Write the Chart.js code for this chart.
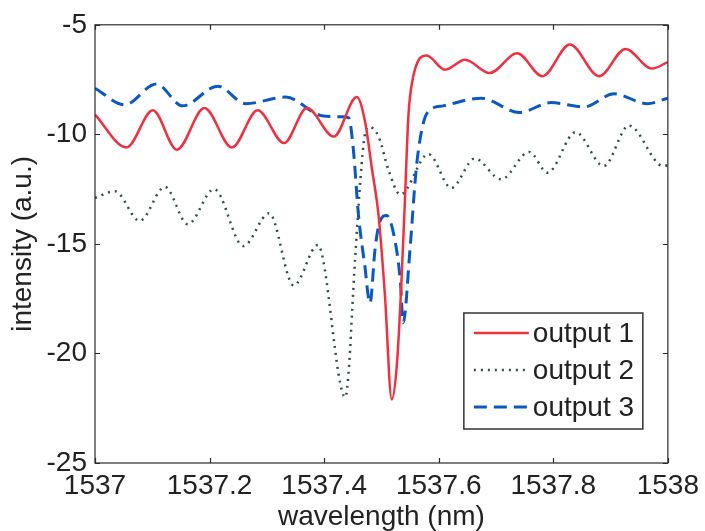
<!DOCTYPE html>
<html>
<head>
<meta charset="utf-8">
<script src="https://cdn.jsdelivr.net/npm/chart.js@4/dist/chart.umd.min.js"></script>
<style>
  html, body { margin: 0; padding: 0; background: #fff; }
  #wrap { position: relative; width: 705px; height: 531px; }
</style>
</head>
<body>
<div id="wrap"><canvas id="chart-output"></canvas></div>
<script>
// output spectra (wavelength in nm, intensity in a.u.)
const seriesLabels = ['output 1', 'output 2', 'output 3'];

const out1Wavelength = [1537.000, 1537.055, 1537.101, 1537.143, 1537.191, 1537.239, 1537.284, 1537.330,
  1537.370, 1537.417, 1537.457, 1537.472, 1537.483, 1537.495, 1537.506, 1537.518, 1537.527, 1537.535,
  1537.541, 1537.547, 1537.553, 1537.579, 1537.611, 1537.646, 1537.689, 1537.737, 1537.781, 1537.829,
  1537.880, 1537.926, 1537.972, 1538.000];
const out1Intensity = [-9.1, -10.6, -8.9, -10.7, -8.8, -10.6, -8.9, -10.4,
  -8.8, -10.1, -8.3, -9.5, -11.5, -13.7, -17.3, -22.1, -20.5, -16.7,
  -13.0, -9.2, -7.7, -6.4, -7.05, -6.6, -7.2, -6.3, -7.35, -5.9,
  -7.35, -6.1, -7.0, -6.7];

const out2Wavelength = [1537.000, 1537.035, 1537.078, 1537.122, 1537.162, 1537.208, 1537.259, 1537.304,
  1537.347, 1537.389, 1537.437, 1537.444, 1537.449, 1537.454, 1537.469, 1537.477, 1537.495, 1537.512,
  1537.533, 1537.582, 1537.622, 1537.663, 1537.709, 1537.758, 1537.790, 1537.839, 1537.888, 1537.932,
  1537.992, 1538.000];
const out2Intensity = [-12.9, -12.6, -13.95, -12.4, -14.1, -12.5, -15.1, -13.6,
  -16.9, -15.05, -22.0, -20.4, -18.0, -15.7, -10.4, -9.65, -10.1, -11.6,
  -12.75, -10.9, -12.45, -11.1, -12.05, -10.8, -11.75, -9.9, -11.45, -9.6,
  -11.45, -11.4];

const out3Wavelength = [1537.000, 1537.052, 1537.107, 1537.153, 1537.214, 1537.263, 1537.333, 1537.396,
  1537.431, 1537.443, 1537.451, 1537.460, 1537.471, 1537.480, 1537.489, 1537.497, 1537.509, 1537.524,
  1537.533, 1537.538, 1537.550, 1537.561, 1537.573, 1537.584, 1537.608, 1537.674, 1537.741, 1537.796,
  1537.854, 1537.906, 1537.964, 1538.000];
const out3Intensity = [-7.9, -8.65, -7.7, -8.7, -7.8, -8.6, -8.3, -9.15,
  -9.2, -9.25, -10.7, -13.7, -16.0, -17.7, -15.2, -14.0, -13.7, -14.9,
  -16.7, -18.6, -15.2, -11.5, -9.5, -8.9, -8.7, -8.35, -9.0, -8.55,
  -8.75, -8.15, -8.6, -8.35];

const xTicks = [1537, 1537.2, 1537.4, 1537.6, 1537.8, 1538];
const yTicks = [-25, -20, -15, -10, -5];

const FONT = 'Liberation Sans, Arial, sans-serif';

function toPoints(xs, ys) {
  return xs.map((x, i) => ({ x: x, y: ys[i] }));
}

// MATLAB style box with inward ticks and the legend inside the axes
const frameAndLegend = {
  id: 'frameAndLegend',
  afterDatasetsDraw(chart) {
    const { ctx, chartArea: a, scales } = chart;
    const tl = 5;
    ctx.save();
    ctx.strokeStyle = '#2b2b2b';
    ctx.lineWidth = 1.2;
    ctx.strokeRect(a.left, a.top, a.right - a.left, a.bottom - a.top);
    ctx.beginPath();
    xTicks.forEach(v => {
      const px = Math.round(scales.x.getPixelForValue(v)) + 0.5;
      ctx.moveTo(px, a.bottom); ctx.lineTo(px, a.bottom - tl);
      ctx.moveTo(px, a.top); ctx.lineTo(px, a.top + tl);
    });
    yTicks.forEach(v => {
      const py = Math.round(scales.y.getPixelForValue(v)) + 0.5;
      ctx.moveTo(a.left, py); ctx.lineTo(a.left + tl, py);
      ctx.moveTo(a.right, py); ctx.lineTo(a.right - tl, py);
    });
    ctx.stroke();

    // legend box
    const w = 179, h = 116;
    const lx = a.right - 25 - w, ly = a.bottom - 34 - h;
    ctx.fillStyle = '#fff';
    ctx.fillRect(lx, ly, w, h);
    ctx.strokeStyle = '#333';
    ctx.lineWidth = 1.5;
    ctx.strokeRect(lx, ly, w, h);
    ctx.font = '28px ' + FONT;
    ctx.textBaseline = 'middle';
    ctx.fillStyle = '#222';
    chart.data.datasets.forEach((ds, i) => {
      const ry = ly + 20 + i * 37;
      ctx.beginPath();
      ctx.strokeStyle = ds.borderColor;
      ctx.lineWidth = ds.borderWidth;
      ctx.setLineDash(ds.borderDash || []);
      ctx.moveTo(lx + 10, ry);
      ctx.lineTo(lx + 65, ry);
      ctx.stroke();
      ctx.setLineDash([]);
      ctx.fillText(ds.label, lx + 69, ry + 1);
    });
    ctx.restore();
  },
};

const ctx = document.getElementById('chart-output');
new Chart(ctx, {
  type: 'line',
  data: {
    datasets: [
      {
        label: seriesLabels[0],
        data: toPoints(out1Wavelength, out1Intensity),
        borderColor: '#f0303f',
        borderWidth: 2.5,
        pointRadius: 0,
        cubicInterpolationMode: 'monotone',
        order: 1,
      },
      {
        label: seriesLabels[1],
        data: toPoints(out2Wavelength, out2Intensity),
        borderColor: '#2a4f4a',
        borderWidth: 2.5,
        borderDash: [2, 5],
        pointRadius: 0,
        cubicInterpolationMode: 'monotone',
        order: 3,
      },
      {
        label: seriesLabels[2],
        data: toPoints(out3Wavelength, out3Intensity),
        borderColor: '#0a58c2',
        borderWidth: 3,
        borderDash: [13, 7],
        pointRadius: 0,
        cubicInterpolationMode: 'monotone',
        order: 2,
      },
    ],
  },
  options: {
    responsive: true,
    maintainAspectRatio: false,
    animation: false,
    layout: { padding: { top: 20, right: 34, left: 0, bottom: 0 } },
    plugins: {
      legend: { display: false },
      tooltip: { enabled: false },
    },
    scales: {
      x: {
        type: 'linear',
        min: 1537,
        max: 1538,
        afterBuildTicks: (s) => { s.ticks = xTicks.map(v => ({ value: v })); },
        afterFit: (s) => { s.height = 68; },
        grid: { display: false, drawTicks: false },
        border: { display: false },
        ticks: {
          color: '#222',
          padding: 6,
          maxRotation: 0,
          font: { family: FONT, size: 28 },
          callback: (v) => String(Math.round(v * 10) / 10),
        },
        title: {
          display: true,
          text: 'wavelength (nm)',
          color: '#222',
          padding: { top: 0, bottom: 0 },
          font: { family: FONT, size: 28, lineHeight: 1 },
        },
      },
      y: {
        min: -25,
        max: -5,
        afterBuildTicks: (s) => { s.ticks = yTicks.map(v => ({ value: v })); },
        afterFit: (s) => { s.width = 95; },
        grid: { display: false, drawTicks: false },
        border: { display: false },
        ticks: {
          color: '#222',
          padding: 8,
          font: { family: FONT, size: 28 },
        },
        title: {
          display: true,
          text: 'intensity (a.u.)',
          color: '#222',
          padding: { top: 9, bottom: 0 },
          font: { family: FONT, size: 28, lineHeight: 1 },
        },
      },
    },
  },
  plugins: [frameAndLegend],
});
</script>
</body>
</html>
